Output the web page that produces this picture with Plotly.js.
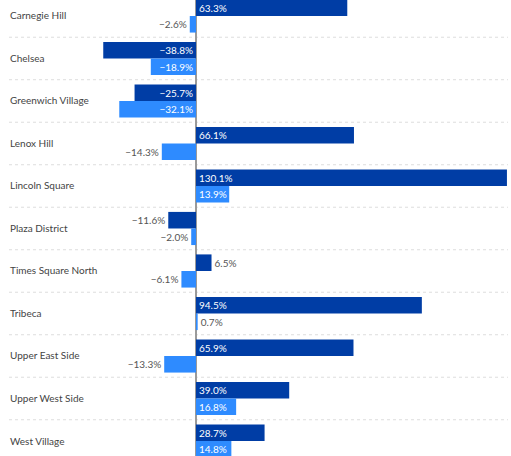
<!DOCTYPE html>
<html>
<head>
<meta charset="utf-8">
<script src="https://cdn.plot.ly/plotly-3.0.1.min.js"></script>
<style>
html,body{margin:0;padding:0;background:#fff;}
#chart{width:511px;height:456px;}
</style>
</head>
<body>
<div id="chart"></div>
<script>
const categories = ["Carnegie Hill","Chelsea","Greenwich Village","Lenox Hill","Lincoln Square","Plaza District","Times Square North","Tribeca","Upper East Side","Upper West Side","West Village"];
const seriesA = [63.3,-38.8,-25.7,66.1,130.1,-11.6,6.5,94.5,65.9,39.0,28.7];
const seriesB = [-2.6,-18.9,-32.1,-14.3,13.9,-2.0,-6.1,0.7,-13.3,16.8,14.8];

const fmt = v => (v < 0 ? "\u2212" : "") + Math.abs(v).toFixed(1) + "%";
const pos = v => (v > 10 || v < -15) ? "inside" : "outside";
const outColor = "#555555";

function trace(vals, name, color) {
  return {
    type: "bar", orientation: "h", name: name,
    y: categories, x: vals,
    marker: {color: color},
    text: vals.map(fmt),
    textposition: vals.map(pos),
    insidetextanchor: "start",
    constraintext: "none",
    cliponaxis: false,
    textfont: {family: "Lato, sans-serif", size: 10, color: vals.map(v => pos(v) === "inside" ? "#ffffff" : outColor)},
    hoverinfo: "skip"
  };
}

const data = [trace(seriesA, "Series A", "#003da5"), trace(seriesB, "Series B", "#2e8bff")];

const shapes = categories.slice(0, -1).map((c, i) => ({
  type: "line", xref: "paper", yref: "y",
  x0: 9/511, x1: 508/511, y0: i + 0.5, y1: i + 0.5,
  line: {color: "#dddddd", width: 1, dash: "dot"}, layer: "below"
}));

const layout = {
  width: 511, height: 456,
  margin: {l: 0, r: 0, t: 0, b: 0},
  paper_bgcolor: "#ffffff", plot_bgcolor: "#ffffff",
  barmode: "group", bargap: 0.22, bargroupgap: 0,
  showlegend: false,
  font: {family: "Lato, sans-serif", color: "#444444"},
  xaxis: {range: [-82.0, 131.8], showgrid: false, showticklabels: false, zeroline: true, zerolinecolor: "#9a9a9a", zerolinewidth: 1.5, fixedrange: true},
  yaxis: {type: "category", range: [10.353, -0.376], showgrid: false, zeroline: false,
          ticklabelposition: "inside", ticks: "", ticklabelstandoff: 7,
          tickfont: {family: "Lato, sans-serif", size: 10, color: "#444444"}},
  shapes: shapes
};

Plotly.newPlot("chart", data, layout, {displayModeBar: false, staticPlot: true});
</script>
</body>
</html>
